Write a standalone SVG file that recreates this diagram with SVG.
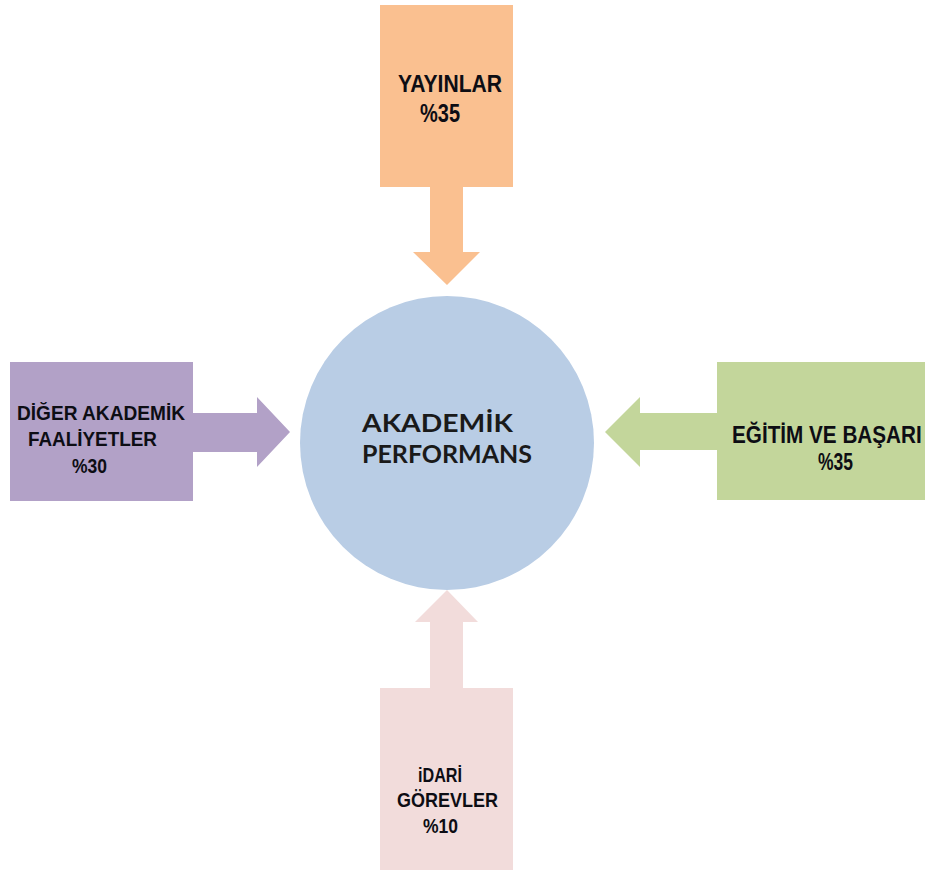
<svg xmlns="http://www.w3.org/2000/svg" width="927" height="870" viewBox="0 0 927 870">
<style>
.t{font-family:"Liberation Sans",Arial,sans-serif;font-weight:bold;fill:#0d0d14;}
.c{font-family:Lato,"Liberation Sans",Arial,sans-serif;font-weight:bold;fill:#1a1a1a;}
.or{fill:#FAC090;}
.pu{fill:#B2A1C7;}
.gr{fill:#C3D69B;}
.pk{fill:#F2DCDB;}
</style>
<rect width="927" height="870" fill="#ffffff"/>
<g id="connectors">
<polygon class="or" points="430,180 463,180 463,252 480,252 447,285 413,252 430,252"/>
<polygon class="pu" points="190,413 257,413 257,397 290,432 257,467 257,452 190,452"/>
<polygon class="gr" points="720,413 640,413 640,397 605,432 640,467 640,450 720,450"/>
<polygon class="pk" points="430,690 430,622 415,622 447,590 478,622 463,622 463,690"/>
</g>
<g id="center">
<circle cx="447" cy="443" r="147" fill="#B9CDE5"/>
<text class="c" x="362" y="432" font-size="25.5" textLength="151" lengthAdjust="spacingAndGlyphs">AKADEMİK</text>
<text class="c" x="362" y="463" font-size="25.5" textLength="170" lengthAdjust="spacingAndGlyphs">PERFORMANS</text>
</g>
<g id="yayinlar">
<rect class="or" x="380" y="5" width="133" height="182"/>
<text class="t" x="398" y="92" font-size="24" textLength="104" lengthAdjust="spacingAndGlyphs">YAYINLAR</text>
<text class="t" x="420" y="122" font-size="25" textLength="40" lengthAdjust="spacingAndGlyphs">%35</text>
</g>
<g id="diger">
<rect class="pu" x="10" y="362" width="183" height="139"/>
<text class="t" x="17" y="420" font-size="19.5" textLength="168" lengthAdjust="spacingAndGlyphs">DİĞER AKADEMİK</text>
<text class="t" x="28" y="446" font-size="19.5" textLength="129" lengthAdjust="spacingAndGlyphs">FAALİYETLER</text>
<text class="t" x="72" y="473" font-size="19.5" textLength="35" lengthAdjust="spacingAndGlyphs">%30</text>
</g>
<g id="egitim">
<rect class="gr" x="717" y="362" width="208" height="138"/>
<text class="t" transform="translate(732,443) scale(0.9,1)" x="0" y="0" font-size="23">EĞİTİM VE BAŞARI</text>
<text class="t" x="818" y="470" font-size="23" textLength="35" lengthAdjust="spacingAndGlyphs">%35</text>
</g>
<g id="idari">
<rect class="pk" x="380" y="688" width="133" height="182"/>
<text class="t" x="418" y="782" font-size="21" textLength="44" lengthAdjust="spacingAndGlyphs">iDARİ</text>
<text class="t" x="397" y="807" font-size="21" textLength="101" lengthAdjust="spacingAndGlyphs">GÖREVLER</text>
<text class="t" x="423" y="833" font-size="21" textLength="35" lengthAdjust="spacingAndGlyphs">%10</text>
</g>
</svg>
